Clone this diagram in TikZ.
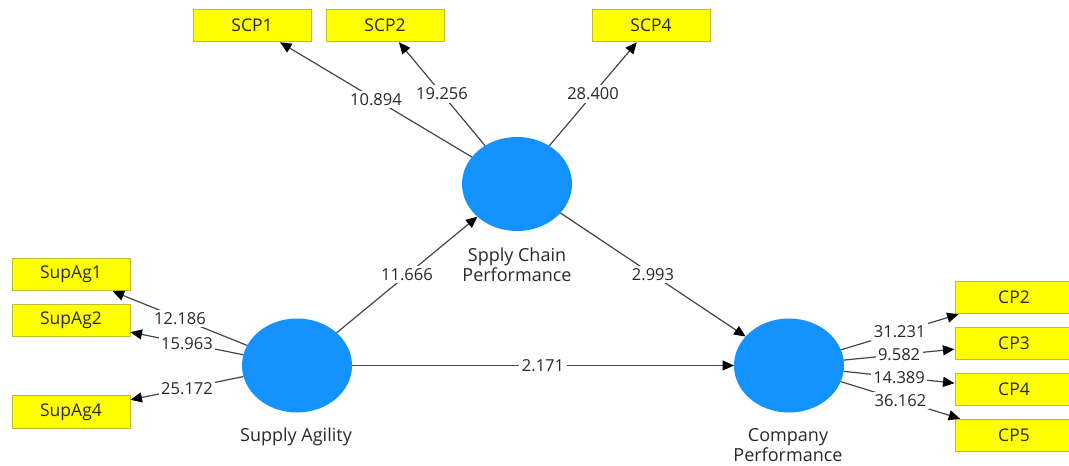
\documentclass[tikz,border=0pt]{standalone}
\usepackage{fontspec}
\setmainfont{Open Sans}
\usetikzlibrary{arrows.meta,shapes.geometric}
\definecolor{lvblue}{RGB}{20,146,255}
\definecolor{mvyellow}{RGB}{255,255,0}
\definecolor{mvborder}{RGB}{190,190,40}
\definecolor{linegray}{RGB}{70,70,70}
\definecolor{txt}{RGB}{40,40,45}
\begin{document}
\begin{tikzpicture}[x=1pt,y=-1pt,
  latent/.style={ellipse, fill=lvblue, draw=none, minimum width=110pt, minimum height=94pt, inner sep=0pt, outer sep=0pt},
  indicator/.style={rectangle, fill=mvyellow, draw=mvborder, line width=1pt, minimum width=118pt, minimum height=32.5pt, inner sep=0pt, font=\fontsize{17.5}{20}\selectfont, text=txt},
  lvlabel/.style={font=\fontsize{18}{20}\selectfont, text=txt, align=center},
  conn/.style={draw=linegray, line width=1.2pt, -{Triangle[length=11.5pt,width=10pt,color=black]}},
  coef/.style={fill=white, inner sep=2.5pt, font=\fontsize{16.5}{16.5}\selectfont, text=txt}
]
\useasboundingbox (0,0) rectangle (1069,466);
\clip (0,0) rectangle (1069,466);

% latent variables
\node[latent] (scp) at (517,184) {};
\node[latent] (sa) at (297,365.5) {};
\node[latent] (cp) at (789,365.5) {};

\node[lvlabel] (scplab) at (517,265) {Spply Chain\\Performance};
\node[lvlabel] (salab) at (296,437) {Supply Agility};
\node[lvlabel] (cplab) at (788,445.5) {Company\\Performance};

% indicators
\node[indicator] (scp1) at (252,25.5) {SCP1};
\node[indicator] (scp2) at (385,25.5) {SCP2};
\node[indicator] (scp4) at (651,25.5) {SCP4};

\node[indicator] (sup1) at (71,274.5) {SupAg1};
\node[indicator] (sup2) at (71,320.3) {SupAg2};
\node[indicator] (sup4) at (71,412) {SupAg4};

\node[indicator] (cp2) at (1014,297.5) {CP2};
\node[indicator] (cp3) at (1014,343.3) {CP3};
\node[indicator] (cp4) at (1014,389.5) {CP4};
\node[indicator] (cp5) at (1014,435.5) {CP5};

% outer loadings
\draw[conn] (scp) -- node[coef] (l1) {10.894} (scp1);
\draw[conn] (scp) -- node[coef] (l2) {19.256} (scp2);
\draw[conn] (scp) -- node[coef] (l3) {28.400} (scp4);

\draw[conn] (sa) -- node[coef] (l4) {12.186} (sup1);
\draw[conn] (sa) -- node[coef] (l5) {15.963} (sup2);
\draw[conn] (sa) -- node[coef] (l6) {25.172} (sup4);

\draw[conn] (cp) -- node[coef] (l7) {31.231} (cp2);
\draw[conn] (cp) -- node[coef] (l8) {9.582} (cp3);
\draw[conn] (cp) -- node[coef] (l9) {14.389} (cp4);
\draw[conn] (cp) -- node[coef] (l10) {36.162} (cp5);

% structural paths
\draw[conn] (sa) -- node[coef] (p1) {11.666} (scp);
\draw[conn] (scp) -- node[coef] (p2) {2.993} (cp);
\draw[conn] (sa) -- node[coef] (p3) {2.171} (cp);
\end{tikzpicture}
\end{document}
